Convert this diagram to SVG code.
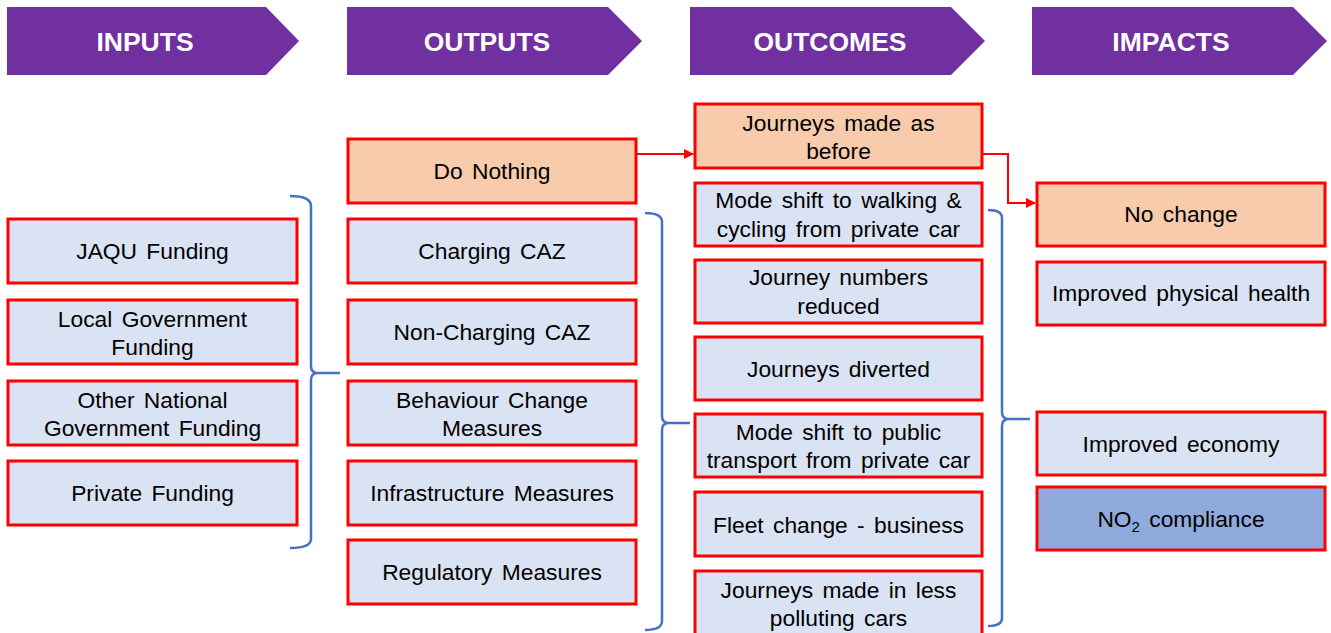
<svg xmlns="http://www.w3.org/2000/svg" width="1331" height="633" viewBox="0 0 1331 633">
<defs>
<style>
.hdr{fill:#7030A0}
.ht{font-family:"Liberation Sans",Arial,sans-serif;font-size:26.5px;font-weight:bold;fill:#fff;text-anchor:middle}
.b{fill:#DAE3F3;stroke:#FF0000;stroke-width:3}
.o{fill:#F8CBAD;stroke:#FF0000;stroke-width:3}
.d{fill:#8FAADC;stroke:#FF0000;stroke-width:3}
.t{font-family:"Liberation Sans",Arial,sans-serif;font-size:22.8px;fill:#000;text-anchor:middle;word-spacing:3px}
.br{fill:none;stroke:#4472C4;stroke-width:2.5}
.cn{fill:none;stroke:#FF0000;stroke-width:2}
</style>
<marker id="ah" viewBox="0 0 10 10" refX="9" refY="5" markerWidth="5" markerHeight="5" orient="auto"><path d="M0,0L10,5L0,10z" fill="#FF0000"/></marker>
</defs>
<g id="headers">
<g id="h-inputs"><polygon class="hdr" points="7,7 266,7 299,41 266,75 7,75"/><text class="ht" x="145" y="50.5">INPUTS</text></g>
<g id="h-outputs"><polygon class="hdr" points="347,7 608,7 642,41 608,75 347,75"/><text class="ht" x="487" y="50.5">OUTPUTS</text></g>
<g id="h-outcomes"><polygon class="hdr" points="690,7 951,7 985,41 951,75 690,75"/><text class="ht" x="830" y="50.5">OUTCOMES</text></g>
<g id="h-impacts"><polygon class="hdr" points="1032,7 1293,7 1327,41 1293,75 1032,75"/><text class="ht" x="1171" y="50.5">IMPACTS</text></g>
</g>
<g id="inputs">
<g id="in1"><rect class="b" x="8" y="219" width="289" height="64"/><text class="t" x="152.5" y="259">JAQU Funding</text></g>
<g id="in2"><rect class="b" x="8" y="300" width="289" height="64"/><text class="t" x="152.5" y="327">Local Government</text><text class="t" x="152.5" y="355">Funding</text></g>
<g id="in3"><rect class="b" x="8" y="381" width="289" height="64"/><text class="t" x="152.5" y="408">Other National</text><text class="t" x="152.5" y="436">Government Funding</text></g>
<g id="in4"><rect class="b" x="8" y="461" width="289" height="64"/><text class="t" x="152.5" y="501">Private Funding</text></g>
</g>
<g id="outputs">
<g id="out0"><rect class="o" x="348" y="139" width="288" height="64"/><text class="t" x="492" y="179">Do Nothing</text></g>
<g id="out1"><rect class="b" x="348" y="219" width="288" height="64"/><text class="t" x="492" y="259">Charging CAZ</text></g>
<g id="out2"><rect class="b" x="348" y="300" width="288" height="64"/><text class="t" x="492" y="340">Non-Charging CAZ</text></g>
<g id="out3"><rect class="b" x="348" y="381" width="288" height="64"/><text class="t" x="492" y="408">Behaviour Change</text><text class="t" x="492" y="436">Measures</text></g>
<g id="out4"><rect class="b" x="348" y="461" width="288" height="64"/><text class="t" x="492" y="501">Infrastructure Measures</text></g>
<g id="out5"><rect class="b" x="348" y="540" width="288" height="64"/><text class="t" x="492" y="580">Regulatory Measures</text></g>
</g>
<g id="outcomes">
<g id="oc0"><rect class="o" x="695" y="104" width="287" height="64"/><text class="t" x="838.5" y="131">Journeys made as</text><text class="t" x="838.5" y="159">before</text></g>
<g id="oc1"><rect class="b" x="695" y="183" width="287" height="63"/><text class="t" x="838.5" y="208">Mode shift to walking &amp;</text><text class="t" x="838.5" y="237">cycling from private car</text></g>
<g id="oc2"><rect class="b" x="695" y="260" width="287" height="63"/><text class="t" x="838.5" y="285">Journey numbers</text><text class="t" x="838.5" y="314">reduced</text></g>
<g id="oc3"><rect class="b" x="695" y="337" width="287" height="63"/><text class="t" x="838.5" y="377">Journeys diverted</text></g>
<g id="oc4"><rect class="b" x="695" y="414" width="287" height="63"/><text class="t" x="838.5" y="440">Mode shift to public</text><text class="t" x="838.5" y="468">transport from private car</text></g>
<g id="oc5"><rect class="b" x="695" y="492" width="287" height="64"/><text class="t" x="838.5" y="533">Fleet change - business</text></g>
<g id="oc6"><rect class="b" x="695" y="571" width="287" height="64"/><text class="t" x="838.5" y="598">Journeys made in less</text><text class="t" x="838.5" y="626">polluting cars</text></g>
</g>
<g id="impacts">
<g id="im0"><rect class="o" x="1037" y="183" width="288" height="63"/><text class="t" x="1181" y="222">No change</text></g>
<g id="im1"><rect class="b" x="1037" y="262" width="288" height="63"/><text class="t" x="1181" y="301">Improved physical health</text></g>
<g id="im2"><rect class="b" x="1037" y="412" width="288" height="63"/><text class="t" x="1181" y="452">Improved economy</text></g>
<g id="im3"><rect class="d" x="1037" y="487" width="288" height="63"/><text class="t" x="1181" y="527">NO<tspan font-size="15" dy="5">2</tspan><tspan dy="-5"> compliance</tspan></text></g>
</g>
<g id="connectors">
<path class="br" d="M290,196 Q311,196 311,206 L311,366 Q311,373 318,373 L340,373 M318,373 Q311,373 311,380 L311,539 Q311,548 290,548"/>
<path class="br" d="M645,213 Q662,213 662,222 L662,416 Q662,423 669,423 L690,423 M669,423 Q662,423 662,430 L662,621 Q662,630 645,630"/>
<path class="br" d="M988,210 Q1002,210 1002,218 L1002,412 Q1002,419 1009,419 L1030,419 M1009,419 Q1002,419 1002,426 L1002,618 Q1002,626 988,626"/>
<path class="cn" d="M637,154 L693,154" marker-end="url(#ah)"/>
<path class="cn" d="M983,154 L1008,154 L1008,203 L1035,203" marker-end="url(#ah)"/>
</g>
</svg>
